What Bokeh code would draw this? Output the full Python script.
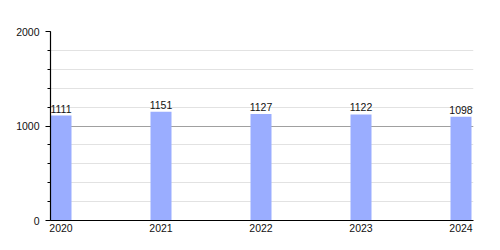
from bokeh.plotting import figure
from bokeh.models import ColumnDataSource, FixedTicker, SingleIntervalTicker, Range1d, LabelSet
from bokeh.core.properties import value
from bokeh.embed import file_html
from bokeh.resources import INLINE

years = ["2020", "2021", "2022", "2023", "2024"]
counts = [1111, 1151, 1127, 1122, 1098]
y_ticks = [0, 1000, 2000]

xs = list(range(len(years)))
src = ColumnDataSource(dict(x=xs, y=counts, label=[str(c) for c in counts]))

p = figure(width=500, height=250, output_backend="svg", toolbar_location=None,
           x_range=Range1d(-0.105, len(years) - 1 + 0.125), y_range=Range1d(0, 2000),
           min_border_left=50, min_border_right=27, min_border_top=31, min_border_bottom=30)
p.outline_line_color = None
p.background_fill_color = "white"
p.border_fill_color = "white"

p.vbar(x="x", top="y", bottom=0, width=0.21, source=src, fill_color="#9aadff", line_color=None)
labels = LabelSet(x="x", y="y", text="label", source=src, text_align="center", text_baseline="bottom",
                  y_offset=3, text_font=value("Liberation Sans"), text_font_size=value("10.5px"),
                  text_color="#111111")
p.add_layout(labels)

p.xaxis.ticker = FixedTicker(ticks=xs)
p.xaxis.major_label_overrides = {i: y for i, y in enumerate(years)}
p.xaxis.major_tick_line_color = None
p.xaxis.major_tick_out = 0
p.xaxis.major_tick_in = 0
p.xaxis.minor_tick_line_color = None
p.xaxis.axis_line_color = "black"
p.xaxis.axis_line_width = 1.2
p.xaxis.major_label_standoff = 3
p.xaxis.major_label_text_font = "Liberation Sans"
p.xaxis.major_label_text_font_size = "10.5px"
p.xaxis.major_label_text_color = "#111111"
p.xgrid.grid_line_color = None

p.yaxis.ticker = SingleIntervalTicker(interval=1000, num_minor_ticks=5)
p.yaxis.axis_line_color = "black"
p.yaxis.axis_line_width = 1.2
p.yaxis.major_tick_out = 5
p.yaxis.major_tick_in = 0
p.yaxis.minor_tick_out = 3
p.yaxis.minor_tick_in = 0
p.yaxis.major_label_standoff = 6
p.yaxis.major_label_text_font = "Liberation Sans"
p.yaxis.major_label_text_font_size = "10.5px"
p.yaxis.major_label_text_color = "#111111"
p.ygrid.grid_line_color = "#a0a0a0"
p.ygrid.minor_grid_line_color = "#e2e2e2"

open("out.html", "w").write(file_html(p, INLINE))
